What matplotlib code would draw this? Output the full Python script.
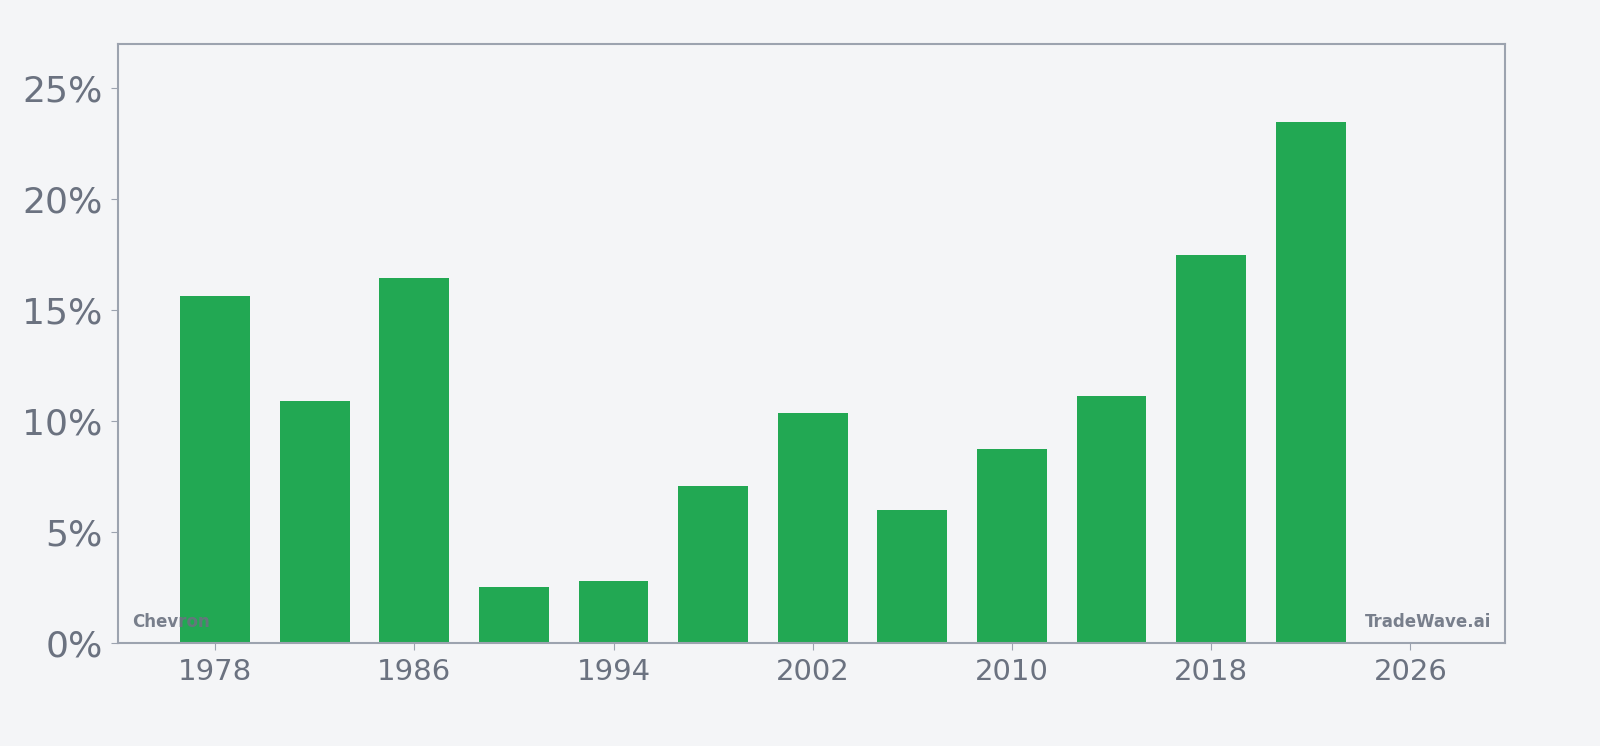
import matplotlib
matplotlib.use("Agg")
import matplotlib.pyplot as plt
from matplotlib.ticker import FuncFormatter

# values
years = [1978, 1982, 1986, 1990, 1994, 1998, 2002, 2006, 2010, 2014, 2018, 2022]
growth = [15.63, 10.9, 16.44, 2.52, 2.79, 7.07, 10.36, 5.99, 8.74, 11.13, 17.48, 23.47]
xticks = [1978, 1986, 1994, 2002, 2010, 2018, 2026]
yticks = [0, 5, 10, 15, 20, 25]

bg = "#f4f5f7"
green = "#22a853"
grey = "#6b7280"
spine = "#9ca3af"

fig = plt.figure(figsize=(16, 7.46), dpi=100, facecolor=bg)
ax = fig.add_axes([118 / 1600, 1 - 643 / 746, (1505 - 118) / 1600, (643 - 44) / 746])
ax.set_facecolor(bg)

ax.bar(years, growth, width=2.8, color=green, zorder=2)

ax.set_xlim(1974.1, 2029.8)
ax.set_ylim(0, 27)
ax.set_xticks(xticks)
ax.set_yticks(yticks)
ax.yaxis.set_major_formatter(FuncFormatter(lambda v, p: f"{v:.0f}%"))
ax.tick_params(axis="x", labelsize=21, colors=grey, length=5, color=spine, pad=6)
ax.tick_params(axis="y", labelsize=26, colors=grey, length=5, color=spine, pad=6)
for s in ax.spines.values():
    s.set_color(spine)
    s.set_linewidth(1.5)

ax.text(0.01, 0.02, "Chevron", transform=ax.transAxes, fontsize=12, fontweight="bold",
        color=grey, alpha=0.9, zorder=3, ha="left", va="bottom")
ax.text(0.99, 0.02, "TradeWave.ai", transform=ax.transAxes, fontsize=12, fontweight="bold",
        color=grey, alpha=0.9, zorder=3, ha="right", va="bottom")

fig.savefig("out.png", dpi=100, facecolor=bg)
